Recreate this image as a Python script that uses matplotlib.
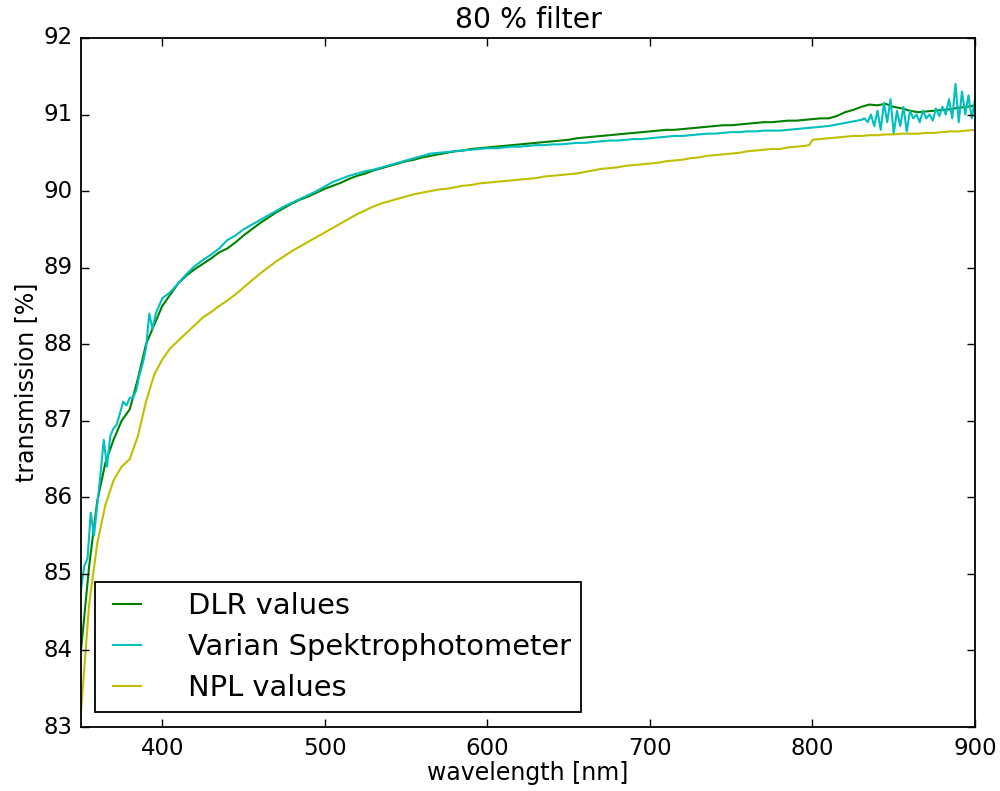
#!/usr/bin/env python3

# system imports
import matplotlib
matplotlib.use("Agg")
import matplotlib.pyplot as plt

# DLR values (green), 5 nm steps
dlr_wl = list(range(350, 905, 5))
dlr_val = [84.0, 85.1, 85.95, 86.45, 86.75, 87.0, 87.15, 87.55, 88.0, 88.25,
           88.5, 88.65, 88.8, 88.9, 88.98, 89.05, 89.12, 89.2, 89.25, 89.33,
           89.42, 89.5, 89.58, 89.65, 89.72, 89.78, 89.84, 89.89, 89.93, 89.98,
           90.03, 90.07, 90.11, 90.16, 90.2, 90.23, 90.27, 90.3, 90.33, 90.36,
           90.39, 90.41, 90.44, 90.46, 90.48, 90.5, 90.52, 90.53, 90.55, 90.56,
           90.57, 90.58, 90.59, 90.6, 90.61, 90.62, 90.63, 90.64, 90.65, 90.66,
           90.67, 90.69, 90.7, 90.71, 90.72, 90.73, 90.74, 90.75, 90.76, 90.77,
           90.78, 90.79, 90.8, 90.8, 90.81, 90.82, 90.83, 90.84, 90.85, 90.86,
           90.86, 90.87, 90.88, 90.89, 90.9, 90.9, 90.91, 90.92, 90.92, 90.93,
           90.94, 90.95, 90.95, 90.98, 91.03, 91.06, 91.1, 91.13, 91.12, 91.14,
           91.1, 91.08, 91.05, 91.03, 91.04, 91.05, 91.06, 91.07, 91.09, 91.1,
           91.12]

# Varian Spektrophotometer (cyan): noisy start, smooth middle, noisy tail
varian_wl = (list(range(350, 402, 2)) + list(range(405, 835, 5))
             + list(range(832, 902, 2)))
varian_val = [84.8, 85.1, 85.2, 85.8, 85.5, 85.9, 86.3, 86.75, 86.4, 86.8,
              86.9, 86.95, 87.1, 87.25, 87.2, 87.3, 87.3, 87.4, 87.6, 87.75,
              87.95, 88.4, 88.2, 88.4, 88.5, 88.6,
              88.68, 88.8, 88.92, 89.02, 89.1, 89.17, 89.25, 89.36, 89.42, 89.5,
              89.56, 89.62, 89.68, 89.74, 89.8, 89.85, 89.9, 89.95, 90.0, 90.06,
              90.12, 90.16, 90.2, 90.23, 90.26, 90.28, 90.31, 90.34, 90.37, 90.4,
              90.43, 90.46, 90.49, 90.5, 90.51, 90.52, 90.53, 90.54, 90.55, 90.56,
              90.56, 90.57, 90.58, 90.58, 90.59, 90.6, 90.6, 90.61, 90.61, 90.62,
              90.63, 90.63, 90.64, 90.65, 90.66, 90.66, 90.67, 90.68, 90.68, 90.69,
              90.7, 90.71, 90.72, 90.72, 90.73, 90.74, 90.75, 90.75, 90.76, 90.77,
              90.77, 90.78, 90.78, 90.79, 90.79, 90.79, 90.8, 90.81, 90.82, 90.83,
              90.84, 90.85, 90.87, 90.89, 90.91, 90.93,
              90.95, 90.9, 91.0, 90.85, 91.05, 90.8, 91.15, 90.9, 91.2, 90.75,
              91.05, 90.85, 91.1, 90.78, 91.05, 90.95, 91.0, 90.9, 91.05, 90.95,
              91.0, 90.92, 91.08, 90.98, 91.1, 91.0, 91.2, 90.95, 91.4, 90.9,
              91.3, 91.0, 91.25, 90.95, 91.2]

# NPL values (yellow), with the small step near 800 nm
npl_wl = list(range(350, 800, 5)) + [798] + list(range(800, 905, 5))
npl_val = [83.2, 84.6, 85.4, 85.9, 86.22, 86.4, 86.5, 86.8, 87.25, 87.6,
           87.8, 87.95, 88.05, 88.15, 88.25, 88.35, 88.42, 88.5, 88.57, 88.65,
           88.74, 88.83, 88.92, 89.0, 89.08, 89.15, 89.22, 89.28, 89.34, 89.4,
           89.46, 89.52, 89.58, 89.64, 89.7, 89.75, 89.8, 89.84, 89.87, 89.9,
           89.93, 89.96, 89.98, 90.0, 90.02, 90.03, 90.05, 90.07, 90.08, 90.1,
           90.11, 90.12, 90.13, 90.14, 90.15, 90.16, 90.17, 90.19, 90.2, 90.21,
           90.22, 90.23, 90.25, 90.27, 90.29, 90.3, 90.31, 90.33, 90.34, 90.35,
           90.36, 90.37, 90.39, 90.4, 90.41, 90.43, 90.44, 90.46, 90.47, 90.48,
           90.49, 90.5, 90.52, 90.53, 90.54, 90.55, 90.55, 90.57, 90.58, 90.59,
           90.6,
           90.67, 90.68, 90.69, 90.7, 90.71, 90.72, 90.72, 90.73, 90.73, 90.74,
           90.74, 90.75, 90.75, 90.75, 90.76, 90.76, 90.77, 90.78, 90.78, 90.79,
           90.8]

x_ticks = [400, 500, 600, 700, 800, 900]
y_ticks = [83, 84, 85, 86, 87, 88, 89, 90, 91, 92]

plt.style.use('classic')
plt.rcParams['figure.facecolor'] = 'white'
plt.rcParams['savefig.facecolor'] = 'white'
plt.rcParams['font.family'] = 'DejaVu Sans'

fig = plt.figure(figsize=(10, 7.91), dpi=100)
ax = fig.add_axes([0.081, 0.0809, 0.894, 0.8711])

ax.plot(dlr_wl, dlr_val, color=(0, 0.5, 0), lw=1.5, label='DLR values')
ax.plot(varian_wl, varian_val, color=(0, 0.75, 0.75), lw=1.5,
        label='Varian Spektrophotometer')
ax.plot(npl_wl, npl_val, color=(0.75, 0.75, 0), lw=1.5, label='NPL values')

ax.set_xlim(350, 900)
ax.set_ylim(83, 92)
ax.set_xticks(x_ticks)
ax.set_yticks(y_ticks)
ax.tick_params(axis='both', which='major', direction='in', length=6,
               width=1, labelsize=16.5, top=True, right=True)
ax.tick_params(axis='x', pad=7)
ax.tick_params(axis='y', pad=6)
for s in ax.spines.values():
    s.set_linewidth(1.3)

ax.set_title('80 % filter', fontsize=20.4, pad=7)
ax.set_xlabel('wavelength [nm]', fontsize=17, labelpad=1)
ax.set_ylabel('transmission [%]', fontsize=17, labelpad=4)

leg = ax.legend(loc='lower left', bbox_to_anchor=(0.0157, 0.0218),
                borderaxespad=0, fontsize=20.8, handlelength=1.55,
                handletextpad=1.35, labelspacing=0.46, borderpad=0.33,
                fancybox=False, frameon=True)
leg.get_frame().set_edgecolor('black')
leg.get_frame().set_linewidth(1.3)

fig.savefig('out.png', dpi=100)
